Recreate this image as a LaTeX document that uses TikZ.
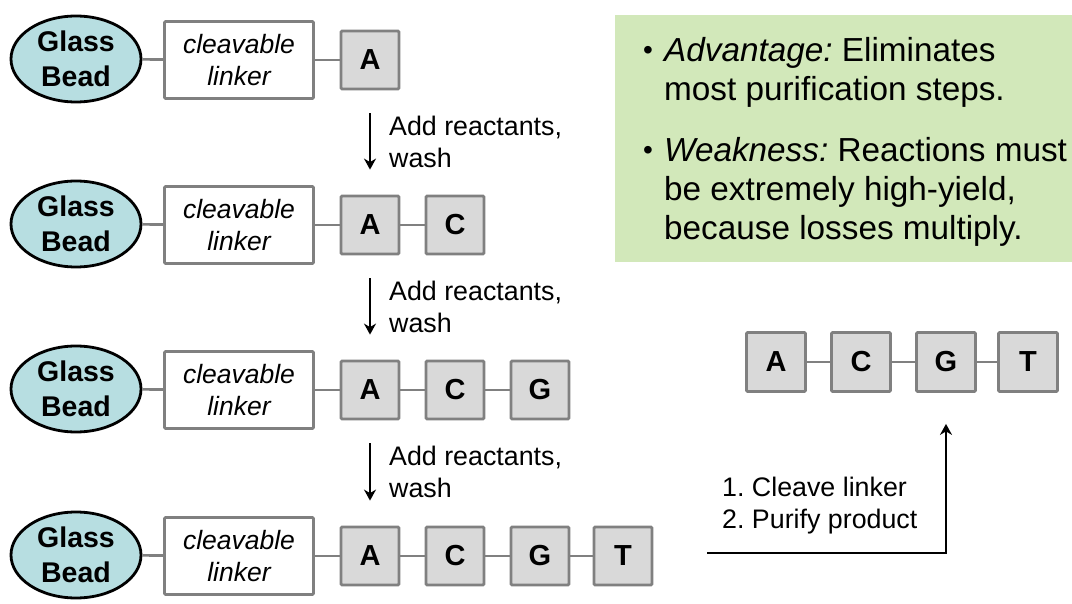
\documentclass[tikz,border=0pt]{standalone}
\usepackage{fontspec}
\setmainfont{Liberation Sans}
\frenchspacing
\usetikzlibrary{arrows.meta,shapes.geometric}
\definecolor{beadfill}{HTML}{B7DEE1}
\definecolor{boxgray}{HTML}{D9D9D9}
\definecolor{edgegray}{HTML}{808080}
\definecolor{notegreen}{HTML}{D2E8BA}
\tikzset{
  bead/.style={ellipse, draw=black, line width=2.8pt, fill=beadfill, minimum width=130pt, minimum height=86pt, inner sep=0pt, align=center, font=\fontsize{28.5}{35}\selectfont\bfseries},
  linker/.style={rectangle, rounded corners=1.2pt, draw=edgegray, line width=2.8pt, fill=white, minimum width=149pt, minimum height=77pt, inner sep=0pt, align=center, font=\fontsize{26.5}{32}\selectfont\itshape},
  base/.style={rectangle, rounded corners=1.2pt, draw=edgegray, line width=2.8pt, fill=boxgray, minimum width=58pt, minimum height=58pt, inner sep=0pt, font=\fontsize{29}{28}\selectfont\bfseries},
  rbase/.style={base, minimum width=59pt, minimum height=59pt},
  bond/.style={draw=edgegray, line width=2.6pt},
  flow/.style={-{Stealth[length=11pt,width=12pt,inset=3.5pt]}, line width=2pt, black},
  steptext/.style={align=left, inner sep=0pt, font=\fontsize{26.8}{32}\selectfont},
  noteline/.style={anchor=base west, inner sep=0pt, font=\fontsize{33.3}{38}\selectfont},
  bulletmark/.style={anchor=base, inner sep=0pt, font=\fontsize{28}{28}\selectfont},
  notebox/.style={rectangle, fill=notegreen, draw=none, anchor=north west, minimum width=457pt, minimum height=247pt, inner sep=0pt}
}
\begin{document}
\begin{tikzpicture}[x=1pt,y=-1pt]
\useasboundingbox (0,0) rectangle (1072,604);
% rows
\node[bead] (bead1) at (76,59) {Glass\\Bead};
\node[linker] (link1) at (239,60) {cleavable\\linker};
\node[base] (b11) at (370,60) {A};
\draw[bond] (bead1) -- (link1);
\draw[bond] (link1) -- (b11);

\node[bead] (bead2) at (76,224) {Glass\\Bead};
\node[linker] (link2) at (239,225) {cleavable\\linker};
\node[base] (b21) at (370,225) {A};
\node[base] (b22) at (455,225) {C};
\draw[bond] (bead2) -- (link2);
\draw[bond] (link2) -- (b21);
\draw[bond] (b21) -- (b22);

\node[bead] (bead3) at (76,389) {Glass\\Bead};
\node[linker] (link3) at (239,390) {cleavable\\linker};
\node[base] (b31) at (370,390) {A};
\node[base] (b32) at (455,390) {C};
\node[base] (b33) at (540,390) {G};
\draw[bond] (bead3) -- (link3);
\draw[bond] (link3) -- (b31);
\draw[bond] (b31) -- (b32);
\draw[bond] (b32) -- (b33);

\node[bead] (bead4) at (76,555) {Glass\\Bead};
\node[linker] (link4) at (239,556) {cleavable\\linker};
\node[base] (b41) at (370,556) {A};
\node[base] (b42) at (455,556) {C};
\node[base] (b43) at (540,556) {G};
\node[base] (b44) at (623,556) {T};
\draw[bond] (bead4) -- (link4);
\draw[bond] (link4) -- (b41);
\draw[bond] (b41) -- (b42);
\draw[bond] (b42) -- (b43);
\draw[bond] (b43) -- (b44);

% step arrows
\draw[flow] ([yshift=-23pt]b11.south) -- ([yshift=25pt]b21.north);
\draw[flow] ([yshift=-23pt]b21.south) -- ([yshift=25pt]b31.north);
\draw[flow] ([yshift=-23pt]b31.south) -- ([yshift=25pt]b41.north);
\node[steptext, anchor=west] (s1) at (389,142) {Add reactants,\\wash};
\node[steptext, anchor=west] (s2) at (389,307) {Add reactants,\\wash};
\node[steptext, anchor=west] (s3) at (389,472) {Add reactants,\\wash};

% note box
\node[notebox] (note) at (615,15) {};
\node[bulletmark] (bul1) at (648,60) {\textbullet};
\node[noteline] (n1) at (664,62) {{\itshape Advantage:} Eliminates};
\node[noteline] (n2) at (664,101) {most purification steps.};
\node[bulletmark] (bul2) at (648,160) {\textbullet};
\node[noteline] (n3) at (664,162) {{\itshape Weakness:} Reactions must};
\node[noteline] (n4) at (664,201) {be extremely high-yield,};
\node[noteline] (n5) at (664,240) {because losses multiply.};

% product chain
\node[rbase] (rA) at (776,362) {A};
\node[rbase] (rC) at (861,362) {C};
\node[rbase] (rG) at (946,362) {G};
\node[rbase] (rT) at (1028,362) {T};
\draw[bond] (rA) -- (rC);
\draw[bond] (rC) -- (rG);
\draw[bond] (rG) -- (rT);

% cleave arrow
\coordinate (cstart) at (707,553);
\draw[flow] (cstart) -| ([yshift=-31pt]rG.south);
\node[steptext, anchor=west] (cl) at (722,506) {1. Cleave linker\\2. Purify product};
\end{tikzpicture}
\end{document}
